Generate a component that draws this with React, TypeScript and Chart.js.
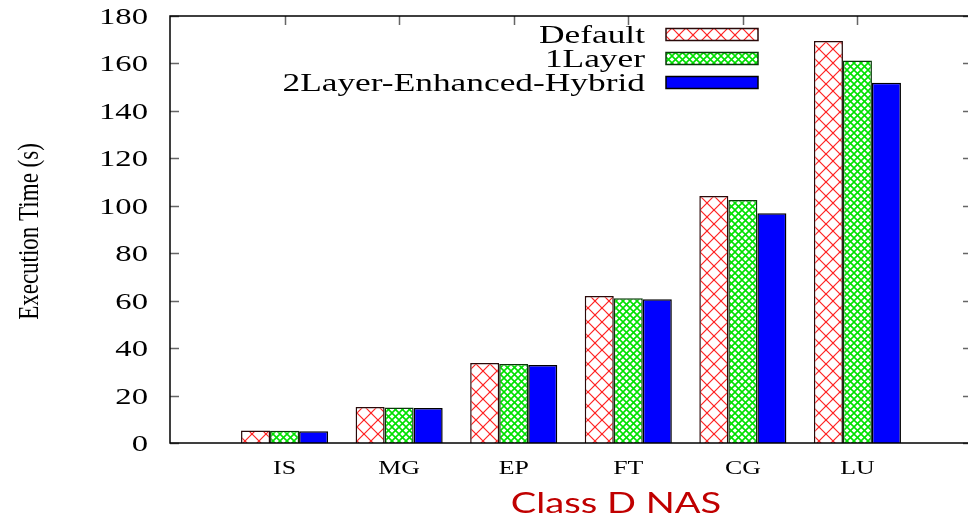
import React, { useEffect, useRef } from "react";
import { Chart, registerables } from "chart.js";

Chart.register(...registerables);

const categories = ["IS", "MG", "EP", "FT", "CG", "LU"];
const defaultVals = [5.3, 15.2, 33.7, 62.0, 104.1, 169.5];
const oneLayerVals = [5.2, 15.0, 33.3, 61.0, 102.4, 161.2];
const hybridVals = [5.0, 14.8, 32.9, 60.6, 96.8, 151.9];
const seriesNames = ["Default", "1Layer", "2Layer-Enhanced-Hybrid"];
const yTicks = [0, 20, 40, 60, 80, 100, 120, 140, 160, 180];
const yTitle = "Execution Time (s)";
const xTitle = "Class D NAS";

const SX = 1.36;
const SERIF = "'Liberation Serif', 'Times New Roman', serif";

function makeHatch(size: number, color: string, lw: number) {
  const c = document.createElement("canvas");
  c.width = size;
  c.height = size;
  const g = c.getContext("2d")!;
  g.fillStyle = "#ffffff";
  g.fillRect(0, 0, size, size);
  g.strokeStyle = color;
  g.lineWidth = lw;
  for (const dx of [-size, 0, size]) {
    g.beginPath();
    g.moveTo(dx, 0);
    g.lineTo(dx + size, size);
    g.stroke();
    g.beginPath();
    g.moveTo(dx + size, 0);
    g.lineTo(dx, size);
    g.stroke();
  }
  return g.createPattern(c, "repeat")!;
}

function sText(
  ctx: CanvasRenderingContext2D,
  text: string,
  x: number,
  y: number,
  align: CanvasTextAlign,
  font: string,
  color: string,
  sx = SX
) {
  ctx.save();
  ctx.translate(x, y);
  ctx.scale(sx, 1);
  ctx.font = font;
  ctx.fillStyle = color;
  ctx.textAlign = align;
  ctx.textBaseline = "alphabetic";
  ctx.fillText(text, 0, 0);
  ctx.restore();
}

export default function App() {
  const ref = useRef<HTMLCanvasElement | null>(null);

  useEffect(() => {
    document.body.style.margin = "0";
    document.body.style.overflow = "hidden";
    const canvas = ref.current!;
    const redHatch = makeHatch(14, "#ff2020", 1.2);
    const greenHatch = makeHatch(7, "#00e000", 1.6);
    const fills: (string | CanvasPattern)[] = [redHatch, greenHatch, "#0000ff"];
    const borders = ["#2a0a0a", "#0a3a0a", "#000000"];
    const labels = ["", ...categories, ""];
    const pad = (a: number[]) => [null, ...a, null];
    const all = [defaultVals, oneLayerVals, hybridVals];

    const plugin = {
      id: "gnuplotLook",
      beforeDatasetsDraw(chart: any) {
        const ctx: CanvasRenderingContext2D = chart.ctx;
        const { left, right, top, bottom } = chart.chartArea;
        const ys = chart.scales.y;
        const xs = chart.scales.x;
        ctx.save();
        ctx.strokeStyle = "#666666";
        ctx.lineWidth = 1.5;
        for (const t of yTicks) {
          const py = Math.round(ys.getPixelForValue(t)) + 0.5;
          ctx.beginPath();
          ctx.moveTo(left, py);
          ctx.lineTo(left + 9, py);
          ctx.moveTo(right, py);
          ctx.lineTo(right - 9, py);
          ctx.stroke();
        }
        categories.forEach((_, i) => {
          const px = Math.round(xs.getPixelForValue(i + 1)) + 0.5;
          ctx.beginPath();
          ctx.moveTo(px, top);
          ctx.lineTo(px, top + 9);
          ctx.moveTo(px, bottom);
          ctx.lineTo(px, bottom - 9);
          ctx.stroke();
        });
        ctx.restore();
      },
      afterDatasetsDraw(chart: any) {
        const ctx: CanvasRenderingContext2D = chart.ctx;
        const { left, right, top, bottom } = chart.chartArea;
        const ys = chart.scales.y;
        const xs = chart.scales.x;
        ctx.save();
        ctx.strokeStyle = "#000000";
        ctx.lineWidth = 1.5;
        ctx.strokeRect(Math.round(left), Math.round(top), Math.round(right - left), Math.round(bottom - top));
        ctx.restore();

        // y tick labels
        for (const t of yTicks) {
          const py = ys.getPixelForValue(t);
          sText(ctx, String(t), left - 22, py + 8, "right", `24px ${SERIF}`, "#000");
        }
        // x tick labels
        categories.forEach((c, i) => {
          const px = xs.getPixelForValue(i + 1);
          sText(ctx, c, px, bottom + 31, "center", `19px ${SERIF}`, "#000");
        });
        // y title (rotated)
        ctx.save();
        ctx.translate(left - 140, (top + bottom) / 2 + 2);
        ctx.rotate(-Math.PI / 2);
        ctx.scale(1, 1.25);
        ctx.font = `23px ${SERIF}`;
        ctx.fillStyle = "#000";
        ctx.textAlign = "center";
        ctx.textBaseline = "middle";
        ctx.fillText(yTitle, 0, 0);
        ctx.restore();
        // x title
        sText(ctx, xTitle, 616, bottom + 70, "center", "28px Lato, 'Open Sans', sans-serif", "#c00000", 1.36);

        // legend
        chart.data.datasets.forEach((ds: any, i: number) => {
          const base = 43 + i * 24;
          sText(ctx, ds.label, 645, base, "right", `26px ${SERIF}`, "#000");
          const y0 = base - 14.5;
          ctx.save();
          ctx.fillStyle = ds.backgroundColor;
          ctx.fillRect(666, y0, 92, 12);
          ctx.strokeStyle = ds.borderColor;
          ctx.lineWidth = 1.5;
          ctx.strokeRect(666, y0, 92, 12);
          ctx.restore();
        });
      },
    };

    const chart = new Chart(canvas, {
      type: "bar",
      data: {
        labels,
        datasets: all.map((vals, i) => ({
          label: seriesNames[i],
          data: pad(vals) as any,
          backgroundColor: fills[i] as any,
          borderColor: borders[i],
          borderWidth: 1.5,
          barPercentage: 1,
          categoryPercentage: 0.76,
        })),
      },
      options: {
        responsive: false,
        animation: false,
        devicePixelRatio: 1,
        layout: { padding: { left: 170, top: 16, right: 4, bottom: 82 } },
        scales: {
          x: { type: "category", display: false, offset: false },
          y: { type: "linear", display: false, min: 0, max: 180 },
        },
        plugins: {
          legend: { display: false },
          tooltip: { enabled: false },
          title: { display: false },
        },
      },
      plugins: [plugin],
    });
    return () => chart.destroy();
  }, []);

  return (
    <div style={{ position: "fixed", left: 0, top: 0, width: 976, height: 525, background: "#fff" }}>
      <canvas ref={ref} width={976} height={525} style={{ display: "block" }} />
    </div>
  );
}
